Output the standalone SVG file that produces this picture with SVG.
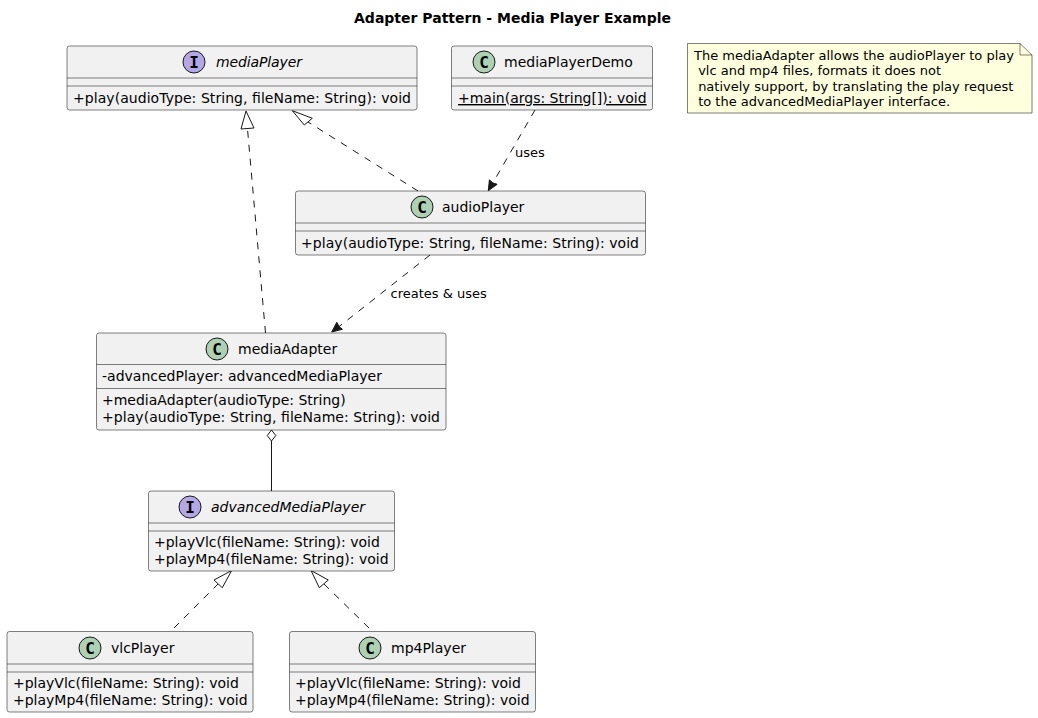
<svg xmlns="http://www.w3.org/2000/svg" width="1038" height="718" viewBox="0 0 1038 718">
<style>
text{font-family:"DejaVu Sans",sans-serif;font-size:14px;fill:#000}
.t{font-weight:bold;font-size:14px}
.i{font-style:italic}
.l{font-size:13px}
.n{font-size:13px}
.b{fill:#F1F1F1;stroke:#181818;stroke-width:.55}
.s{stroke:#181818;stroke-width:.55;fill:none}
.ci{fill:#ADD1B2;stroke:#181818;stroke-width:1}
.ii{fill:#B4A7E5;stroke:#181818;stroke-width:1}
.g{font-family:"DejaVu Sans Mono",monospace;font-size:16px;font-weight:bold;text-anchor:middle}
.c{fill:none;stroke:#181818;stroke-width:1;stroke-dasharray:7 7}
.so{fill:none;stroke:#181818;stroke-width:1}
.h{fill:none;stroke:#181818;stroke-width:1}
.a{fill:#181818;stroke:#181818;stroke-width:1}
</style>
<text class="t" x="512.500" y="23" text-anchor="middle">Adapter Pattern - Media Player Example</text>
<g id="connectors">
<path class="c" d="M265.500 333 L247.500 129"/><polygon class="h" points="246,111 241,129 254,128"/>
<path class="c" d="M418 191 L308 122"/><polygon class="h" points="292.300,110.700 304.300,125 312.300,118.300"/>
<path class="c" d="M535 110 L491 186"/><path class="a" d="M488.300 190.700 L489.400 179.800 L493 183 L497.200 184.300 Z"/>
<path class="c" d="M430 255 L336 329"/><path class="a" d="M331.700 332 L336.800 322.300 L339 326.500 L342.400 329.300 Z"/>
<path class="so" d="M271.500 441 V491"/><polygon class="h" points="271.500,430 267.200,435.500 271.500,441 275.800,435.500"/>
<path class="c" d="M174 628 L218 584"/><polygon class="h" points="231.700,570.500 214,580 222.300,587.700"/>
<path class="c" d="M369 628 L324 584"/><polygon class="h" points="311,570.500 328.300,580 319.300,587.700"/>
<text class="l" x="515" y="157">uses</text>
<text class="l" x="390.500" y="298">creates &amp; uses</text>
</g>
<g id="mediaPlayer">
<rect class="b" x="67" y="46" width="350" height="64" rx="2.500"/>
<path class="s" d="M67 78H417M67 86H417"/>
<circle class="ii" cx="194" cy="62" r="11"/><text class="g" x="194" y="68">I</text>
<text class="i" x="216" y="67" textLength="86">mediaPlayer</text>
<text x="73" y="103" textLength="338">+play(audioType: String, fileName: String): void</text>
</g>
<g id="mediaPlayerDemo">
<rect class="b" x="451.500" y="46" width="201" height="64" rx="2.500"/>
<path class="s" d="M451.500 78H652.500M451.500 86H652.500"/>
<circle class="ci" cx="484" cy="62" r="11"/><text class="g" x="484" y="68">C</text>
<text x="504" y="67">mediaPlayerDemo</text>
<text x="458" y="103" text-decoration="underline">+main(args: String[]): void</text>
</g>
<g id="note">
<path d="M687.500 43.500H1020L1032 55V113H687.500Z" fill="#FEFFDD" stroke="#181818" stroke-width=".55"/>
<path d="M1020 43.500V55H1032" fill="none" stroke="#181818" stroke-width=".55"/>
<text class="n" x="694" y="60">The mediaAdapter allows the audioPlayer to play</text>
<text class="n" x="694" y="75" xml:space="preserve"> vlc and mp4 files, formats it does not</text>
<text class="n" x="694" y="91" xml:space="preserve"> natively support, by translating the play request</text>
<text class="n" x="694" y="106" xml:space="preserve"> to the advancedMediaPlayer interface.</text>
</g>
<g id="audioPlayer">
<rect class="b" x="295.500" y="191" width="350" height="64" rx="2.500"/>
<path class="s" d="M295.500 223H645.500M295.500 231H645.500"/>
<circle class="ci" cx="422" cy="207" r="11"/><text class="g" x="422" y="213">C</text>
<text x="442" y="212">audioPlayer</text>
<text x="301" y="248" textLength="338">+play(audioType: String, fileName: String): void</text>
</g>
<g id="mediaAdapter">
<rect class="b" x="96.500" y="333" width="349.500" height="97" rx="2.500"/>
<path class="s" d="M96.500 364.500H446M96.500 388.500H446"/>
<circle class="ci" cx="217" cy="349" r="11"/><text class="g" x="217" y="355">C</text>
<text x="238" y="354">mediaAdapter</text>
<text x="102" y="381">-advancedPlayer: advancedMediaPlayer</text>
<text x="102" y="405">+mediaAdapter(audioType: String)</text>
<text x="102" y="422" textLength="338">+play(audioType: String, fileName: String): void</text>
</g>
<g id="advancedMediaPlayer">
<rect class="b" x="148.500" y="491" width="246" height="80" rx="2.500"/>
<path class="s" d="M148.500 523H394.500M148.500 531H394.500"/>
<circle class="ii" cx="190" cy="507" r="11"/><text class="g" x="190" y="513">I</text>
<text class="i" x="211" y="512">advancedMediaPlayer</text>
<text x="154" y="547">+playVlc(fileName: String): void</text>
<text x="154" y="564">+playMp4(fileName: String): void</text>
</g>
<g id="vlcPlayer">
<rect class="b" x="7" y="631.500" width="246" height="80.500" rx="2.500"/>
<path class="s" d="M7 664H253M7 672H253"/>
<circle class="ci" cx="90" cy="648" r="11"/><text class="g" x="90" y="654">C</text>
<text x="111" y="653">vlcPlayer</text>
<text x="13" y="688">+playVlc(fileName: String): void</text>
<text x="13" y="705">+playMp4(fileName: String): void</text>
</g>
<g id="mp4Player">
<rect class="b" x="289.500" y="631.500" width="246" height="80.500" rx="2.500"/>
<path class="s" d="M289.500 664H535.500M289.500 672H535.500"/>
<circle class="ci" cx="370" cy="648" r="11"/><text class="g" x="370" y="654">C</text>
<text x="391" y="653">mp4Player</text>
<text x="295" y="688">+playVlc(fileName: String): void</text>
<text x="295" y="705">+playMp4(fileName: String): void</text>
</g>
</svg>
